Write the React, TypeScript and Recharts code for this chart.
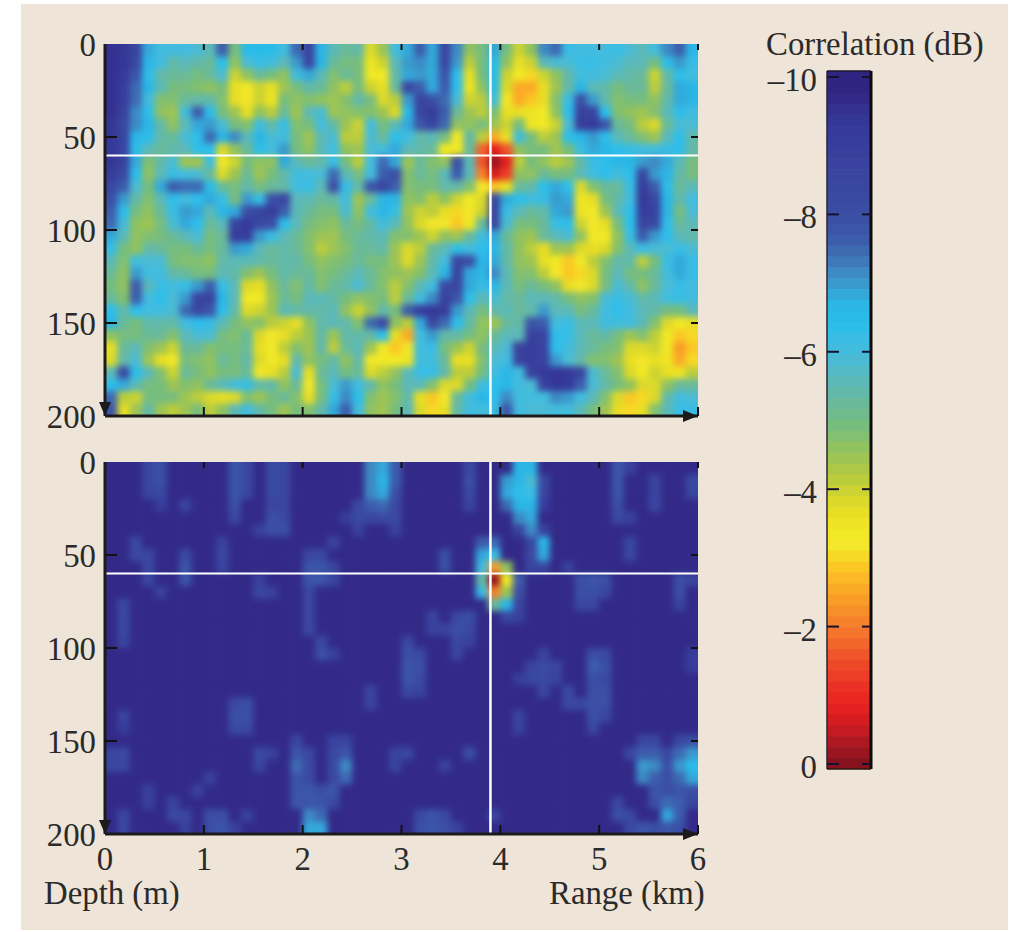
import { ScatterChart, Scatter, XAxis, YAxis, ReferenceLine } from "recharts";

// 64 band colour table, read top (-10 dB) to bottom (0 dB) off the colour bar
const colorBands = [
  "#2f2580", "#302681", "#332a88", "#343191", "#353797", "#363a9a", "#373d9c", "#383f9d",
  "#39429e", "#3945a0", "#3a47a1", "#3a49a2", "#3b4ca3", "#3b4fa5", "#3c55a8", "#3d5dac",
  "#3e6ab2", "#3e7abb", "#3d8ac4", "#3a9acd", "#33a9da", "#2bb6e6", "#29bce9", "#2ebeea",
  "#39bde4", "#42bcde", "#4bbbd4", "#54bac6", "#5cb9b8", "#63b9a9", "#6aba9a", "#70bb8c",
  "#77bd7e", "#83c06f", "#90c260", "#9ec454", "#adc846", "#bccd3c", "#ccd332", "#dcd92a",
  "#e8de24", "#eee423", "#f1e826", "#f3e62b", "#f7d825", "#fbc724", "#fcb826", "#fbaa27",
  "#f99c28", "#f78f29", "#f5812a", "#f4752b", "#f2662c", "#f0562a", "#ef4829", "#ed3c27",
  "#eb3025", "#e92822", "#e22120", "#d51d20", "#c41a21", "#ae1820", "#9a151f", "#86121e",
];

const rangeTicks = [0, 1, 2, 3, 4, 5, 6];
const depthTicks = [0, 50, 100, 150, 200];
const barTicks = [-10, -8, -6, -4, -2, 0];
const sourceRange = 3.9;
const sourceDepth = 60;

// upper panel, dB, 30 depth rows x 48 range columns
const upperGrid = [
  [-9.6,-9.4,-8.6,-6.8,-6,-6,-6,-5.8,-5.5,-7.6,-5,-6.5,-6.5,-6.5,-6,-7.4,-8.6,-6.6,-5.5,-5.2,-5.4,-3.8,-4.4,-6,-6.8,-7.6,-6.8,-8.4,-7.2,-4.6,-5,-6.8,-5,-4,-4.6,-7.2,-7.4,-6.2,-6,-6,-6,-6.2,-5.8,-5.6,-6,-7.2,-7.6,-6.6],
  [-9.6,-9.4,-8.4,-6.6,-6,-5.4,-5.6,-5.4,-5.2,-6.4,-4.6,-5.8,-6.2,-6,-5.6,-7,-8.4,-6.6,-5.2,-5,-5,-3.5,-4,-5.6,-7,-7.2,-6.8,-8.4,-7,-4.2,-5,-6.5,-4.6,-3.6,-4,-5.6,-5.8,-5.8,-6.2,-6.2,-6,-5.8,-5.5,-5.6,-5,-6.4,-7,-6.2],
  [-9.6,-9.2,-7.8,-6.4,-5.4,-5.2,-5.2,-5,-5.2,-5.8,-4,-4.6,-5.2,-5,-4.6,-6,-6.8,-5.6,-4.8,-5.2,-5,-3.4,-3.4,-5.4,-6.8,-7,-6.8,-7.8,-6.4,-3.6,-5,-6.5,-4,-3.4,-3,-4,-4.6,-5.4,-6,-6,-5.8,-5.6,-5.4,-5.2,-3.9,-5.4,-6.4,-6],
  [-9.6,-9,-7.4,-6.6,-5.6,-5,-5,-4.8,-4.6,-5,-3.6,-3.4,-4,-3.6,-4.4,-5,-5.4,-5.2,-4.6,-4.2,-5,-4,-3.6,-5.2,-8.4,-7.6,-6.8,-7.6,-6.4,-3.5,-4.6,-6.5,-3.8,-2.6,-2.6,-3.6,-4.4,-5.4,-6.6,-5.6,-5.4,-5,-5.2,-5.2,-4.2,-5.2,-6.8,-6.6],
  [-9.6,-9,-7.4,-6,-4.8,-4.8,-5.2,-5.4,-5.4,-4.8,-3.6,-3.2,-4,-3.5,-5,-4.6,-4.8,-4.6,-4.4,-4.8,-5.4,-5,-3.8,-4.2,-7,-8.6,-8,-7.4,-5.8,-4,-4.2,-6,-3.4,-2.6,-2.8,-3.6,-4.8,-6.2,-8,-7,-5.4,-4.8,-5,-5,-4.6,-5.4,-6.8,-6.6],
  [-9.5,-8.8,-7.2,-6.4,-4.6,-4.4,-6,-7.6,-6.4,-5,-4.4,-3.6,-4.6,-4.2,-5.2,-4.4,-5.6,-5.8,-4.4,-4.6,-4.8,-4.8,-4.4,-3.8,-6.6,-8.4,-9,-7.6,-5.2,-4.4,-4.2,-5,-3.6,-3.6,-3.5,-3.4,-4.6,-6.4,-8.8,-8.6,-6.4,-4.8,-4.6,-4.4,-4.8,-5.6,-6.4,-6],
  [-9.4,-8.4,-7.2,-6.6,-5.4,-4.6,-5.6,-6.8,-7,-5.8,-5,-4.8,-6,-5.4,-6.2,-4.8,-5,-6,-5.4,-4.4,-4,-6,-5,-5.6,-6.8,-7.8,-8.6,-7.4,-4.6,-4.6,-5,-4.4,-4,-5,-3.5,-3.4,-4,-5.8,-9,-9.2,-7.8,-5.2,-5,-4.2,-3.8,-5.2,-5.8,-5.8],
  [-9.4,-8.6,-6.6,-6.4,-5.4,-5.2,-5.8,-6.4,-7.4,-6.6,-7.2,-5.6,-6.6,-5.8,-6,-5,-4.4,-5.6,-5.8,-4.2,-4.2,-5.8,-5.2,-6.4,-6,-5.4,-5.6,-5,-3.4,-5.4,-4.2,-2.6,-3.6,-6,-5,-4.2,-4.4,-6.4,-6.6,-7,-6.4,-5.6,-5.2,-4.8,-4.4,-5.6,-6.4,-5.4],
  [-9.2,-8.6,-6.4,-5.6,-5.2,-5.4,-5.6,-6.4,-6.4,-3.8,-4.6,-5.2,-6.4,-6,-7,-5,-4.6,-5.6,-6,-4.6,-4.4,-5.8,-6,-6.8,-5.6,-5.4,-5.2,-3.4,-3.4,-5.2,-1.8,-0.8,-1.6,-4.6,-5,-5,-4.4,-5,-6.2,-6.8,-6.6,-6.4,-6.2,-6,-6,-6.2,-6.4,-5.4],
  [-9.4,-8.8,-6.8,-4.8,-5.4,-5.8,-4.4,-4.4,-6,-3.4,-4,-5,-4.6,-4.6,-6.8,-5.6,-5.2,-5.4,-6.2,-5,-4.2,-6,-7.4,-6.8,-4.4,-5.2,-4.8,-4.6,-8,-5.6,-1.6,-0.1,-0.8,-4.2,-5,-4.6,-4.2,-4.4,-5.4,-6.2,-6.4,-6.6,-6.6,-7,-7.2,-6.8,-5.6,-5],
  [-9,-8.2,-6.4,-4.6,-5.6,-6.2,-6,-5.8,-5.2,-3.8,-4.4,-5.2,-4.4,-5,-5.4,-6,-6,-5.8,-7.4,-5.6,-5,-6,-7.6,-8,-4.8,-5.2,-5,-5.6,-7.6,-5.6,-2,-0.6,-1.2,-4.6,-4.6,-5.2,-5,-5,-5.6,-6,-6.4,-6,-6.4,-8.4,-7,-6.6,-5.4,-5],
  [-8.4,-7.6,-5.8,-5,-6.8,-7.6,-7.4,-7.4,-6.4,-5.2,-5,-5.4,-5,-5.2,-5.4,-6,-6.2,-5.6,-8,-6.2,-5.4,-7.8,-8.6,-7.6,-4.8,-5,-5,-5.4,-5.4,-4.8,-3.2,-2.8,-3.6,-5.2,-5.4,-6.4,-6.8,-6.4,-3.8,-4.8,-5.2,-5.2,-6.2,-9,-7.6,-6.4,-5.2,-5.6],
  [-8,-7,-5.4,-4.8,-5.6,-6.4,-6,-6.4,-6.8,-6.2,-5,-7,-6.2,-8,-8.4,-5.6,-5.6,-5.2,-5.4,-6,-4.4,-5.2,-6.6,-6.6,-4.6,-4.8,-4.2,-4.6,-4,-3.4,-3.8,-8.2,-6.8,-6.4,-6,-6.2,-7,-6.8,-3.5,-3.6,-5,-5.4,-6,-9.2,-8.4,-6.6,-5.4,-6],
  [-7.6,-6.4,-5,-4.6,-5.2,-6.2,-7,-6.8,-5.6,-6.6,-6.8,-8,-8.6,-9,-7.6,-5.6,-5.2,-5,-5,-5.8,-4.6,-6,-6.6,-6.2,-4.4,-4,-4.2,-3.6,-3,-3.2,-4,-8.6,-6.2,-5.6,-5.2,-5.4,-6.8,-7,-3.5,-3.4,-4.4,-5.6,-6.4,-9,-8.8,-6.6,-5,-5.8],
  [-7.4,-6,-4.6,-4.4,-5,-5.8,-6.8,-6.4,-5.2,-5.6,-8.6,-9.2,-8.2,-8,-6.4,-5.6,-5,-4.8,-4.6,-5.2,-5,-5.4,-6,-5.6,-4.6,-3.8,-3.2,-3.2,-2.8,-3.4,-5.2,-8.4,-5.8,-5,-5,-5.2,-6.2,-6.4,-4,-3.2,-3.6,-5,-6.4,-8.4,-8.2,-6.4,-5.2,-5.6],
  [-6.8,-5.6,-4.6,-4.8,-5,-5.2,-5.6,-5.8,-5,-5.2,-9,-9,-7,-6.2,-5.6,-5.2,-4.8,-4.4,-4.4,-5,-5.2,-5.4,-5.6,-4.8,-4.8,-4.4,-4,-4.6,-4.4,-5.2,-6,-6.8,-5.2,-4.6,-4.4,-5.2,-5.6,-5.8,-4.6,-3.4,-3.4,-4.6,-6.2,-7.6,-7,-6.4,-5.6,-5.4],
  [-6.2,-5,-4.6,-5.4,-5.2,-5,-5,-5.2,-5,-5.2,-7,-6.8,-5.6,-5.2,-5.4,-5.2,-4.8,-4.2,-4.4,-4.8,-5.2,-5.2,-5.4,-4.4,-3.8,-4.2,-5.2,-5.6,-6.4,-6,-6.4,-6.6,-5.4,-4.6,-4.2,-3.6,-4.4,-4.4,-3.8,-3.6,-3.8,-4.8,-5.6,-6.2,-5.8,-5.8,-6.2,-5.8],
  [-5.6,-4.8,-6,-5.8,-5.8,-5,-4.8,-4.8,-4.6,-5.4,-5.6,-5.6,-5.4,-5.2,-5.4,-5.4,-5,-4.6,-4.8,-5,-5.2,-5,-5,-4.4,-3.8,-4.4,-5.4,-6,-8.4,-8,-6.6,-6.8,-5.4,-4.6,-4.4,-3.6,-3.4,-2.8,-3.4,-4.2,-4.8,-5.4,-5.4,-4.2,-5,-6.2,-6.8,-6.2],
  [-5.2,-4.6,-7,-6,-6,-5.4,-5.2,-5,-5,-5.6,-5.4,-4.8,-4.4,-5,-5.4,-5.2,-5.2,-4.8,-5,-5.2,-5.6,-5.2,-4.8,-4.6,-4.4,-4.8,-5.6,-6.6,-8.6,-6.8,-6.6,-7.2,-5.6,-4.8,-4.8,-4.2,-3.2,-2.8,-3,-3.8,-5,-5.6,-5,-5,-5.2,-6,-6.8,-6.2],
  [-5,-4.6,-7.6,-5.6,-6.2,-6,-6.2,-7,-7.6,-6.2,-5.6,-3.8,-3.6,-4.6,-5.2,-4.8,-5.4,-4.8,-5.2,-5.4,-5.8,-5.2,-4.8,-4.2,-4.8,-5.6,-6,-8.2,-8.4,-6.8,-6.2,-6.6,-5.6,-5,-5.2,-5,-4.6,-3.6,-3.2,-3.8,-5,-5.8,-5.4,-4.6,-5.2,-5.8,-6.2,-6],
  [-5.2,-4.8,-7.6,-6,-6.4,-5.8,-7,-8.6,-8.8,-6.6,-5.6,-3.4,-3.4,-4.4,-5.2,-5,-5.6,-5.6,-5.4,-5,-4.6,-4.8,-5,-4.2,-5.2,-6,-7.2,-8.8,-7.8,-6.4,-5.6,-5.8,-5.4,-5.2,-5.6,-5.6,-5.4,-5,-4.6,-4.8,-5.8,-6.2,-5.8,-5.4,-5.6,-6,-6.2,-6],
  [-6.4,-5.4,-6.4,-6,-6,-5.8,-7.4,-8.4,-7.8,-6.4,-5.4,-3.8,-4,-4.4,-5.6,-5.4,-5.4,-5.4,-5.6,-4.6,-4,-4.6,-5.4,-5,-7.6,-9,-9.2,-9,-7,-5.6,-5,-5.4,-5.6,-5.2,-5.4,-7,-5.6,-5.6,-5,-5.2,-6,-6.4,-6,-5.6,-5.4,-5,-5,-5.6],
  [-6.6,-5.2,-5,-5.4,-5.4,-5.4,-6,-6.4,-6.2,-5.6,-5,-4.6,-4.8,-4.2,-4,-3.6,-4.6,-5.4,-5.6,-5.4,-4.8,-7.4,-8.2,-4.6,-4.2,-6.8,-8.4,-7.4,-6.4,-5.4,-4.6,-4.4,-5.2,-5.4,-7.8,-7.6,-6,-6.2,-5.6,-5.6,-6,-6,-6,-5.6,-4.8,-3.8,-3.4,-3.6],
  [-4.6,-5,-5,-5.2,-5.2,-4.8,-5.6,-5.8,-5.8,-5,-4.8,-5.2,-3.8,-3.2,-3.6,-4.2,-4.4,-5.4,-4.4,-5.4,-5.4,-5.4,-6.4,-3.6,-2.6,-6,-7,-5.4,-5.4,-5,-4.6,-5.2,-5.6,-5.6,-8.8,-8.6,-6.4,-6.2,-5.6,-5.2,-5.4,-5,-4.4,-4.8,-4.2,-3.4,-2.8,-3],
  [-3.6,-5.2,-5.6,-4.8,-4.4,-4,-5.2,-5.2,-4.8,-5,-5,-5.2,-3.6,-3.4,-4.2,-4.8,-4.4,-5.4,-4.2,-5.2,-5.6,-4.4,-3.4,-2.8,-3.2,-6,-6.2,-5,-4.4,-4,-5,-5.6,-5.8,-8.8,-9,-8.6,-6.4,-6,-5.6,-5.2,-5,-4.8,-3.8,-3.8,-4,-3.4,-2.4,-2.8],
  [-3.8,-5.4,-5.8,-4.4,-3.6,-3.4,-5,-4.8,-4.6,-5.2,-5,-5.4,-3.8,-3.4,-3.6,-5.4,-4.6,-5,-5.4,-4.6,-5.4,-3.4,-3.4,-3.4,-3.5,-6,-6,-5.2,-3.6,-3.6,-4.8,-5.8,-6,-8.6,-9,-8.8,-7,-5.8,-5.4,-4.8,-4.8,-4.4,-3.6,-3.2,-3.6,-3.5,-2.6,-3],
  [-5.6,-8.2,-6.4,-5.6,-4.8,-4,-5.2,-5,-4.6,-5,-5,-5.2,-3.4,-3.6,-4.2,-5.8,-3.6,-5.2,-5.6,-5,-5.2,-3.8,-4.2,-4.6,-5.6,-6.2,-6.2,-5.4,-4.2,-4.2,-5,-6,-6.6,-6,-8.8,-9.2,-9.4,-9.2,-8.6,-5.8,-5.2,-4.8,-3.8,-3.4,-4,-3.6,-3.5,-4.2],
  [-6.4,-6.8,-5.6,-5,-5,-4.4,-4.8,-4.6,-5.2,-5.6,-6,-6.2,-5.4,-5.4,-4.6,-5.2,-3.2,-5,-5.8,-7,-6,-5.4,-4.6,-5,-5.6,-5.6,-4.8,-3.8,-3.8,-5,-6,-6.4,-6.6,-6,-5.8,-8.8,-9.4,-9.2,-7.6,-5.8,-5.4,-5,-4.6,-3.8,-3.8,-4.6,-5.2,-5.2],
  [-7.4,-4.2,-4,-5,-5,-5,-4.4,-4.2,-3.8,-3.6,-3.8,-4.8,-4.4,-5,-5.2,-4.8,-3.6,-5,-6.2,-7.2,-6.4,-4.8,-4.4,-4.8,-5.4,-3.6,-2.8,-3.2,-5.2,-6,-6.6,-6.4,-7.2,-6,-6,-6,-7.2,-7,-6,-5.6,-4.8,-3.8,-2.8,-3,-3.8,-5.4,-6,-5.8],
  [-7.8,-3.6,-4.4,-5.4,-4.4,-4.2,-4.4,-5,-4.2,-4.6,-5.6,-6,-5.4,-5,-4.4,-5,-4.8,-5.4,-6.8,-7.6,-6,-4.6,-4.4,-5,-5.6,-3.8,-3,-3.6,-5.4,-6,-6,-6.2,-7.8,-6,-5.8,-5.8,-6,-6,-5.6,-5,-4.4,-3.6,-3,-3.6,-4.8,-5.6,-6.2,-6.2],
];

// lower panel is almost all at the floor, so each row lists only [column, dB] where it rises
const lowerFloor = -9.7;
const lowerRows: number[][][] = [
  [[3,-8.4],[4,-8],[10,-7.8],[11,-8.4],[13,-8.2],[14,-8.4],[21,-7.2],[22,-6.8],[23,-7.6],[29,-8.2],[33,-6.6],[34,-6.6],[41,-7.8],[42,-8.8]],
  [[3,-8.4],[4,-8],[10,-7.8],[11,-8.4],[13,-8.2],[14,-8.4],[21,-7.2],[22,-6.7],[23,-7.6],[29,-8],[32,-7],[33,-6.6],[34,-5.8],[35,-8.4],[41,-7.8],[44,-8.6],[47,-8.2]],
  [[3,-8.6],[4,-8.2],[10,-7.8],[11,-8.4],[13,-8.2],[14,-8.4],[21,-7.2],[22,-6.8],[23,-8],[29,-8.2],[32,-6.8],[33,-6.4],[34,-6.2],[35,-8.6],[41,-7.8],[44,-8.6],[47,-8.4]],
  [[4,-9],[6,-8.6],[10,-8],[13,-8.4],[14,-8.6],[20,-8.2],[21,-7.6],[22,-7.4],[23,-8.2],[29,-8.6],[32,-7.4],[33,-6.6],[34,-6.6],[35,-9],[41,-8],[44,-8.4]],
  [[10,-8.2],[13,-8],[14,-8.2],[19,-9],[20,-8.2],[21,-8.4],[22,-8.2],[23,-8.2],[33,-7.2],[34,-6.8],[41,-8.4],[42,-8.8]],
  [[12,-8.8],[13,-8],[14,-8],[20,-8.8],[23,-8.8],[33,-8.6],[34,-7.2],[35,-8.8]],
  [[2,-8.2],[9,-8.8],[18,-8.6],[30,-7.6],[31,-7.4],[34,-8.4],[35,-6.6],[42,-8.4]],
  [[2,-8.2],[3,-8.4],[6,-8.2],[9,-8.2],[16,-8.4],[17,-8.2],[27,-8],[30,-6.8],[31,-6.2],[34,-8.2],[35,-6.8],[42,-8.2]],
  [[3,-8.2],[6,-7.8],[9,-8.6],[16,-7.8],[17,-7.8],[18,-8.6],[27,-8],[30,-6],[31,-2.4],[32,-4.6],[34,-8.6],[35,-8.4],[37,-8.8]],
  [[3,-8.4],[6,-7.8],[12,-8.8],[16,-7.8],[17,-7.8],[18,-8.6],[30,-5.4],[31,-0.1],[32,-3.4],[33,-7.6],[38,-8],[39,-7.8],[40,-8],[46,-8],[47,-8.6]],
  [[4,-8.8],[12,-8.4],[13,-8.8],[16,-8.4],[30,-6.2],[31,-2],[32,-4.4],[33,-8],[38,-8],[39,-8],[40,-8.4],[46,-8]],
  [[1,-8.4],[16,-8.4],[31,-5.2],[32,-6.6],[33,-8.6],[38,-8.2],[39,-8.4],[46,-8.6]],
  [[1,-8.2],[16,-8.4],[26,-8.6],[28,-8.2],[29,-8],[32,-8.4],[33,-8.8]],
  [[1,-8.2],[16,-8.2],[26,-8.8],[27,-8.6],[28,-8],[29,-8.2]],
  [[1,-8.6],[17,-8.2],[24,-8.4],[28,-8.4],[29,-8.8]],
  [[17,-8],[18,-8.8],[24,-8],[25,-8.2],[28,-8.6],[35,-8.6],[39,-8],[40,-8.2],[47,-9]],
  [[24,-7.8],[25,-8],[34,-8.6],[35,-8.2],[36,-8.4],[39,-7.6],[40,-8],[47,-9]],
  [[24,-7.8],[25,-8.2],[33,-9],[34,-8.4],[35,-8.2],[36,-8.6],[39,-8],[40,-8.2]],
  [[21,-8.6],[24,-8.2],[25,-8.6],[35,-8.4],[37,-8.2],[39,-8],[40,-8]],
  [[10,-8.2],[11,-8],[21,-8.6],[37,-8.2],[38,-8.4],[39,-8],[40,-8]],
  [[1,-8.6],[10,-8],[11,-8],[33,-8.6],[39,-8],[40,-8.4]],
  [[1,-9],[10,-8.2],[11,-8.2],[33,-8.8],[39,-8.4]],
  [[15,-8.4],[18,-8.6],[19,-8.6],[43,-8.4],[44,-8.4],[46,-8.2],[47,-8]],
  [[0,-8.4],[1,-8.2],[12,-8.2],[13,-8.8],[15,-7.8],[16,-8.4],[18,-8.2],[19,-7.8],[23,-8.6],[24,-8.4],[29,-8],[42,-8.4],[43,-7.6],[44,-7.6],[45,-8.2],[46,-7.4],[47,-7]],
  [[0,-8.4],[1,-8.4],[12,-8.4],[15,-7.4],[16,-8.2],[18,-8.2],[19,-7.2],[23,-8.6],[27,-8.8],[43,-7],[44,-7.2],[45,-8],[46,-7],[47,-6.5]],
  [[8,-8.8],[15,-7.8],[16,-8.2],[18,-8.2],[19,-7.4],[43,-7.2],[44,-7.6],[45,-8],[46,-7.4],[47,-6.8]],
  [[3,-8.8],[7,-8.8],[15,-7.8],[16,-7.8],[17,-8],[18,-7.8],[44,-7.8],[45,-8],[46,-7.8],[47,-8]],
  [[3,-8.8],[5,-8.6],[15,-7.8],[16,-7.8],[17,-7.8],[18,-8.2],[41,-8.4],[44,-8],[45,-7.4],[46,-7.6],[47,-8.6]],
  [[1,-8.4],[5,-8.2],[6,-8.4],[8,-8],[9,-8],[11,-8.8],[16,-7.2],[17,-7.4],[25,-8.2],[26,-7.8],[27,-8.2],[31,-8.4],[41,-8],[42,-8.2],[45,-6.8],[46,-7.6]],
  [[1,-8.4],[6,-8.8],[8,-8],[9,-7.8],[10,-8.8],[16,-6.8],[17,-6.8],[25,-8],[26,-7.8],[27,-8],[28,-8.8],[42,-8.2],[43,-7.8],[44,-8],[45,-7.8],[46,-8]],
];

const textColor = "#2b2a2a";
const fontFamily = "'Liberation Serif', serif";
const fontSize = 32.8;

const PLOT_LEFT = 105;
const PLOT_W = 593;
const PLOT_H = 372;
const UPPER_TOP = 44;
const LOWER_TOP = 462;
const BAR_LEFT = 827;
const BAR_W = 44;
const BAR_TOP = 71;
const BAR_H = 698;
const PAGE_W = 1017;
const PAGE_H = 932;

const rowCount = upperGrid.length;
const colCount = upperGrid[0].length;

function colorFor(db: number) {
  const i = Math.round(((db + 10) / 10) * (colorBands.length - 1));
  return colorBands[Math.max(0, Math.min(colorBands.length - 1, i))];
}

function toCell(r: number, c: number, db: number) {
  return { x: ((c + 0.5) / colCount) * 6, y: ((r + 0.5) / rowCount) * 200, fill: colorFor(db) };
}

const upperCells = upperGrid.flatMap((row, r) => row.map((db, c) => toCell(r, c, db)));

const lowerCells = lowerRows.flatMap((row, r) => {
  const raised = new Map(row.map(([c, db]) => [c, db]));
  return Array.from({ length: colCount }, (_, c) => toCell(r, c, raised.get(c) ?? lowerFloor));
});

const barMin = -10.087;
const barMax = 0.073;
const barCells = colorBands.map((fill, i) => ({
  x: 0.5,
  y: barMin + ((i + 0.5) / colorBands.length) * (barMax - barMin),
  fill,
}));

function cellShape(w: number, h: number) {
  return (p: any) => (
    <rect x={p.cx - w / 2} y={p.cy - h / 2} width={w + 0.6} height={h + 0.6} fill={p.payload.fill} />
  );
}

function RangeTick({ x, y, payload, labels }: any) {
  const v = payload.value;
  return (
    <g>
      {v > 0 && <line x1={x} x2={x} y1={y} y2={y - 9} stroke="#111" strokeWidth={2} />}
      {v > 0 && <line x1={x} x2={x} y1={y - PLOT_H} y2={y - PLOT_H + 6} stroke="#111" strokeWidth={2} />}
      {v === 6 && <polygon points={`${x},${y} ${x - 15},${y - 6} ${x - 15},${y + 6}`} fill="#1c1a1a" />}
      {labels && (
        <text x={x} y={y + 36} textAnchor="middle" fontFamily={fontFamily} fontSize={fontSize} fill={textColor}>
          {v}
        </text>
      )}
    </g>
  );
}

function DepthTick({ x, y, payload }: any) {
  const v = payload.value;
  return (
    <g>
      {v > 0 && v < 200 && <line x1={x} x2={x + 12} y1={y} y2={y} stroke="#111" strokeWidth={2} />}
      {v > 0 && v < 200 && <line x1={x + PLOT_W - 7} x2={x + PLOT_W} y1={y} y2={y} stroke="#111" strokeWidth={2} />}
      {v === 200 && <polygon points={`${x},${y} ${x - 6},${y - 14} ${x + 6},${y - 14}`} fill="#1c1a1a" />}
      <text x={x - 9} y={y + 12} textAnchor="end" fontFamily={fontFamily} fontSize={fontSize} fill={textColor}>
        {v}
      </text>
    </g>
  );
}

function BarTick({ x, y, payload }: any) {
  const v = payload.value;
  return (
    <g>
      <line x1={x} x2={x + 12} y1={y} y2={y} stroke="#14122e" strokeWidth={2} />
      <line x1={x + BAR_W - 9} x2={x + BAR_W} y1={y} y2={y} stroke="#14122e" strokeWidth={2} />
      <text x={x - 10} y={y + 14} textAnchor="end" fontFamily={fontFamily} fontSize={fontSize} fill={textColor}>
        {v < 0 ? `\u2013${-v}` : v}
      </text>
    </g>
  );
}

// axis width/height of 1: recharts skips drawing an axis whose box is 0
function Panel({ cells, top, labels, className }: any) {
  const cw = PLOT_W / colCount;
  const ch = PLOT_H / rowCount;
  return (
    <div style={{ position: "absolute", left: 0, top: 0 }}>
      <ScatterChart
        width={PAGE_W}
        height={PAGE_H}
        margin={{ top, left: PLOT_LEFT - 1, right: PAGE_W - PLOT_LEFT - PLOT_W, bottom: PAGE_H - top - PLOT_H - 1 }}
      >
        <XAxis
          type="number"
          dataKey="x"
          domain={[0, 6]}
          ticks={rangeTicks}
          interval={0}
          height={1}
          tickSize={0}
          tickMargin={0}
          tickLine={false}
          axisLine={{ stroke: "#1c1a1a", strokeWidth: 3 }}
          tick={(p: any) => <RangeTick {...p} labels={labels} />}
        />
        <YAxis
          type="number"
          dataKey="y"
          reversed
          domain={[0, 200]}
          ticks={depthTicks}
          interval={0}
          width={1}
          tickSize={0}
          tickMargin={0}
          tickLine={false}
          axisLine={{ stroke: "#1c1a1a", strokeWidth: 3 }}
          tick={(p: any) => <DepthTick {...p} />}
        />
        <Scatter className={className} data={cells} isAnimationActive={false} shape={cellShape(cw, ch)} zIndex={50} />
        <ReferenceLine x={sourceRange} stroke="#fff" strokeWidth={2.5} zIndex={450} />
        <ReferenceLine y={sourceDepth} stroke="#fff" strokeWidth={2} zIndex={450} />
      </ScatterChart>
    </div>
  );
}

function ColorBar() {
  return (
    <div style={{ position: "absolute", left: 0, top: 0 }}>
      <ScatterChart
        width={PAGE_W}
        height={PAGE_H}
        margin={{ top: BAR_TOP, left: BAR_LEFT - 1, right: PAGE_W - BAR_LEFT - BAR_W, bottom: PAGE_H - BAR_TOP - BAR_H }}
      >
        <XAxis type="number" dataKey="x" domain={[0, 1]} hide height={0} />
        <YAxis
          type="number"
          dataKey="y"
          reversed
          domain={[barMin, barMax]}
          allowDataOverflow
          ticks={barTicks}
          interval={0}
          width={1}
          tickSize={0}
          tickMargin={0}
          tickLine={false}
          axisLine={{ stroke: "#2a2430", strokeWidth: 1.5 }}
          tick={(p: any) => <BarTick {...p} />}
        />
        <Scatter data={barCells} isAnimationActive={false} shape={cellShape(BAR_W, BAR_H / colorBands.length)} zIndex={50} />
        <ReferenceLine x={1} stroke="#0c0a0a" strokeWidth={3} zIndex={450} />
        <ReferenceLine y={barMin} stroke="#1c1630" strokeWidth={1.5} zIndex={450} />
        <ReferenceLine y={barMax} stroke="#2a1414" strokeWidth={1.5} zIndex={450} />
      </ScatterChart>
    </div>
  );
}

function blurFilter(id: string, top: number, sigma: number) {
  return (
    <filter
      id={id}
      filterUnits="userSpaceOnUse"
      x={PLOT_LEFT}
      y={top}
      width={PLOT_W}
      height={PLOT_H}
      colorInterpolationFilters="sRGB"
    >
      <feGaussianBlur stdDeviation={sigma} />
      <feComponentTransfer>
        <feFuncA type="linear" slope="12" />
      </feComponentTransfer>
    </filter>
  );
}

export default function App() {
  return (
    <div style={{ position: "absolute", left: 0, top: 0, width: PAGE_W, height: PAGE_H, background: "#fff", overflow: "hidden" }}>
      <style>{`.heat-upper{filter:url(#blurUpper)}.heat-lower{filter:url(#blurLower)}`}</style>
      <div style={{ position: "absolute", left: 21, top: 4, width: 987, height: 926, background: "#eee4d7" }} />
      <svg width={0} height={0} style={{ position: "absolute" }}>
        <defs>
          {blurFilter("blurUpper", UPPER_TOP, 3.4)}
          {blurFilter("blurLower", LOWER_TOP, 3)}
        </defs>
      </svg>
      <Panel cells={upperCells} top={UPPER_TOP} labels={false} className="heat-upper" />
      <Panel cells={lowerCells} top={LOWER_TOP} labels className="heat-lower" />
      <ColorBar />
      <svg width={PAGE_W} height={PAGE_H} style={{ position: "absolute", left: 0, top: 0 }}>
        <g fontFamily={fontFamily} fontSize={fontSize} fill={textColor}>
          <text x={766} y={55}>Correlation (dB)</text>
          <text x={44} y={904}>Depth (m)</text>
          <text x={549} y={904}>Range (km)</text>
        </g>
      </svg>
    </div>
  );
}
